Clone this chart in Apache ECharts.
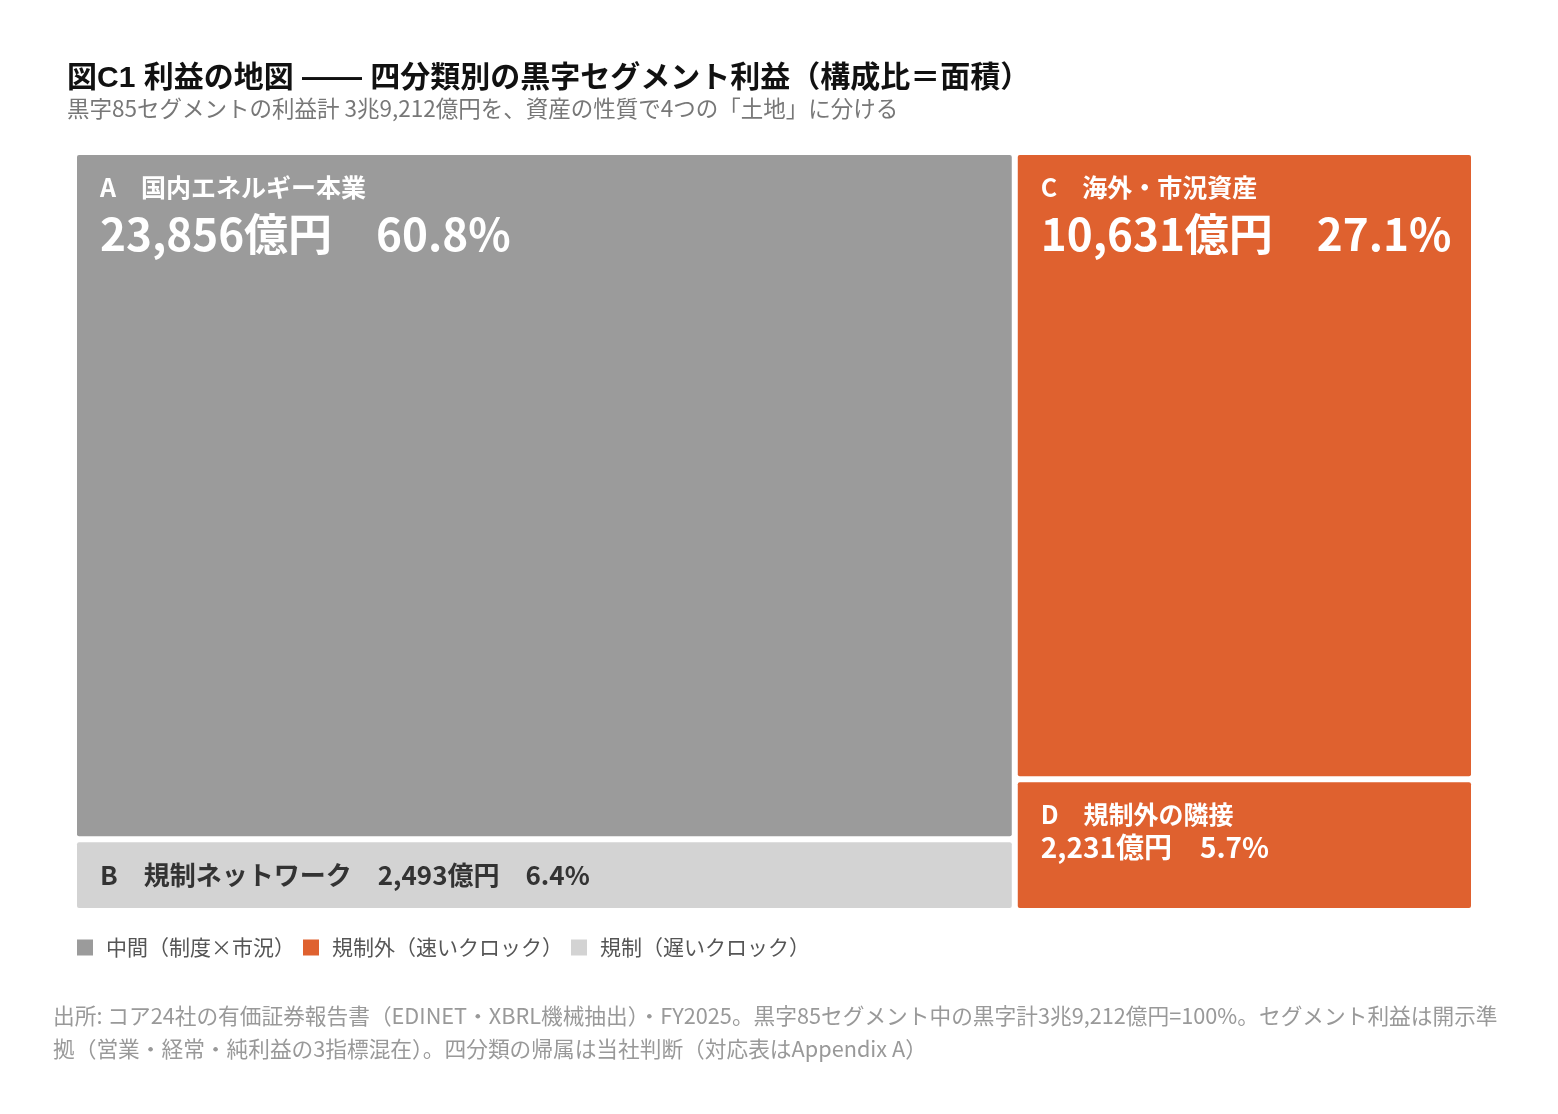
<!DOCTYPE html>
<html lang="ja">
<head>
<meta charset="utf-8">
<title>図C1 利益の地図</title>
<script src="https://cdn.jsdelivr.net/npm/echarts@6/dist/echarts.min.js"></script>
<style>
  html, body { margin: 0; padding: 0; background: #fff; }
  #chart { width: 1558px; height: 1114px; }
</style>
</head>
<body>
<div id="chart"></div>
<script>
// 四分類（セグメント利益、億円）
var cellCodes = ['A', 'B', 'C', 'D'];
var cellNames = ['国内エネルギー本業', '規制ネットワーク', '海外・市況資産', '規制外の隣接'];
var cellValues = [23856, 2493, 10631, 2231];
// 面積図の列（0 = 左, 1 = 右）と凡例の分類
var cellColumns = [0, 0, 1, 1];
var cellClasses = [0, 2, 1, 1];
var classNames = ['中間（制度×市況）', '規制外（速いクロック）', '規制（遅いクロック）'];

var classColors = ['#9b9b9b', '#df612f', '#d3d3d3'];
var FONT = "'Noto Sans CJK JP', 'Noto Sans', sans-serif";
var TITLE_FONT = "'Liberation Sans', 'Noto Sans CJK JP', sans-serif";
var GAP = 3;

var total = cellValues.reduce(function (s, v) { return s + v; }, 0);

// 列ごとの合計と、セルの範囲（x: 累積利益, y: 列内の構成比）
var columnTotals = [];
cellValues.forEach(function (v, i) {
    var c = cellColumns[i];
    columnTotals[c] = (columnTotals[c] || 0) + v;
});
var columnStart = [];
var acc = 0;
columnTotals.forEach(function (t, c) {
    columnStart[c] = acc;
    acc += t;
});
var columnFill = columnTotals.map(function () { return 0; });
var cellRanges = cellValues.map(function (v, i) {
    var c = cellColumns[i];
    var y0 = columnFill[c] / columnTotals[c];
    columnFill[c] += v;
    var y1 = columnFill[c] / columnTotals[c];
    return [columnStart[c], columnStart[c] + columnTotals[c], y0, y1, i];
});

function shareText(i) {
    return (cellValues[i] / total * 100).toFixed(1) + '%';
}

function labelFor(i, h, textColor) {
    var head = cellCodes[i] + '　' + cellNames[i];
    var amount = echarts.format.addCommas(cellValues[i]) + '億円　' + shareText(i);
    if (h < 100) {
        return {
            config: { position: 'insideLeft', distance: 23 },
            style: {
                text: head + '　' + amount,
                fontFamily: FONT, fontSize: 26, fontWeight: 'bold',
                fill: textColor
            }
        };
    }
    var big = h > 300;
    return {
        config: { position: [23, 16] },
        style: {
            text: '{n|' + head + '}\n{v|' + amount + '}',
            align: 'left',
            verticalAlign: 'top',
            fontFamily: FONT,
            fill: textColor,
            rich: {
                n: { fontFamily: FONT, fontSize: 25, fontWeight: 'bold', lineHeight: 32, fill: textColor },
                v: { fontFamily: FONT, fontSize: big ? 44 : 28, fontWeight: 'bold',
                     lineHeight: big ? 62 : 34, fill: textColor }
            }
        }
    };
}

function renderCell(params, api) {
    var idx = api.value(4);
    var p0 = api.coord([api.value(0), api.value(2)]);
    var p1 = api.coord([api.value(1), api.value(3)]);
    var x = p0[0] + GAP;
    var y = p0[1] + GAP;
    var w = p1[0] - p0[0] - GAP * 2;
    var h = p1[1] - p0[1] - GAP * 2;
    var textColor = cellClasses[idx] === 2 ? '#333333' : '#ffffff';
    var label = labelFor(idx, h, textColor);
    return {
        type: 'rect',
        shape: { x: x, y: y, width: w, height: h, r: 2 },
        style: { fill: api.visual('color') },
        textConfig: label.config,
        textContent: { style: label.style, silent: true }
    };
}

var series = classNames.map(function (name, k) {
    return {
        name: name,
        type: 'custom',
        renderItem: renderCell,
        clip: false,
        itemStyle: { color: classColors[k] },
        data: cellRanges.filter(function (r) { return cellClasses[r[4]] === k; })
    };
});

var chart = echarts.init(document.getElementById('chart'));
chart.setOption({
    backgroundColor: '#ffffff',
    animation: false,
    title: {
        text: '図C1 利益の地図 —— 四分類別の黒字セグメント利益（構成比＝面積）',
        subtext: '黒字85セグメントの利益計 3兆9,212億円を、資産の性質で4つの「土地」に分ける',
        left: 62,
        top: 59,
        itemGap: 3,
        textStyle: { fontFamily: TITLE_FONT, fontSize: 30, fontWeight: 'bold', color: '#111111' },
        subtextStyle: { fontFamily: FONT, fontSize: 22.5, color: '#777777' }
    },
    legend: {
        data: classNames,
        left: 72,
        top: 932,
        icon: 'rect',
        itemWidth: 16,
        itemHeight: 16,
        itemGap: 8,
        selectedMode: false,
        textStyle: { fontFamily: FONT, fontSize: 21, color: '#555555', padding: [0, 0, 0, 8] }
    },
    grid: { left: 74, top: 152, width: 1400, height: 759 },
    xAxis: { type: 'value', min: 0, max: total, show: false },
    yAxis: { type: 'value', min: 0, max: 1, inverse: true, show: false },
    series: series,
    graphic: [{
        type: 'text',
        left: 53,
        top: 999,
        style: {
            text: '出所: コア24社の有価証券報告書（EDINET・XBRL機械抽出）・FY2025。黒字85セグメント中の黒字計3兆9,212億円=100%。セグメント利益は開示準\n' +
                  '拠（営業・経常・純利益の3指標混在）。四分類の帰属は当社判断（対応表はAppendix A）',
            fontFamily: FONT,
            fontSize: 21.7,
            lineHeight: 33,
            fill: '#999999'
        }
    }]
});
window.addEventListener('resize', function () {
    chart.resize();
});
</script>
</body>
</html>
